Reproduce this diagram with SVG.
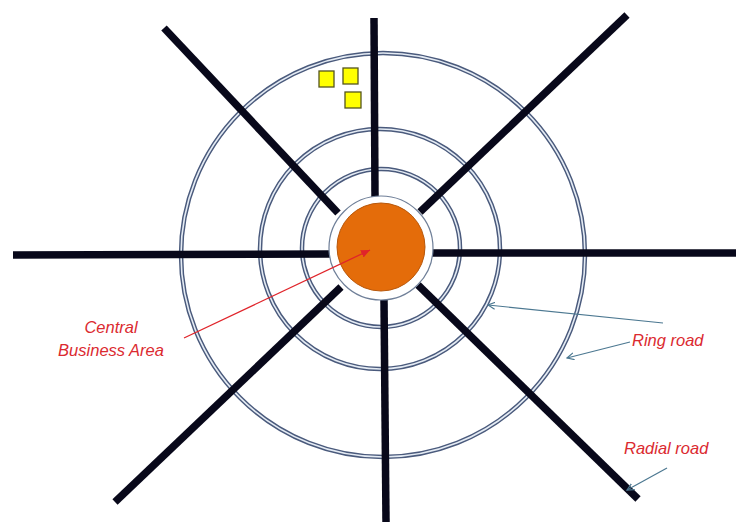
<svg xmlns="http://www.w3.org/2000/svg" width="736" height="527" viewBox="0 0 736 527">
<style>
.ring-o{fill:none;stroke:#4a5a7c;stroke-width:4.5}
.ring-i{fill:none;stroke:#e4ebf4;stroke-width:1.6}
.road{stroke:#08081a;stroke-width:7.5;stroke-linecap:butt}
.sq{fill:#ffff00;stroke:#55551e;stroke-width:1.3}
.lbl{font-family:"Liberation Sans",Arial,sans-serif;font-style:italic;font-size:16.5px;fill:#db2a30}
.lead{fill:none;stroke:#4c7891;stroke-width:1.2}
</style>
<defs>
<marker id="ah-blue" markerWidth="8" markerHeight="8" refX="7" refY="4" orient="auto" markerUnits="userSpaceOnUse">
<path d="M0,0.5 L7,4 L0,7.5" fill="none" stroke="#4c7891" stroke-width="1.2"/>
</marker>
<marker id="ah-red" markerWidth="10" markerHeight="10" refX="9" refY="5" orient="auto" markerUnits="userSpaceOnUse">
<path d="M0,1 L9,5 L0,9 Z" fill="#e0242a"/>
</marker>
</defs>
<rect width="736" height="527" fill="#ffffff"/>
<g id="ring-outer"><circle class="ring-o" cx="383" cy="255" r="202"/><circle class="ring-i" cx="383" cy="255" r="202"/></g>
<g id="ring-middle"><circle class="ring-o" cx="380" cy="249" r="120"/><circle class="ring-i" cx="380" cy="249" r="120"/></g>
<g id="ring-inner"><circle class="ring-o" cx="381" cy="248" r="79"/><circle class="ring-i" cx="381" cy="248" r="79"/></g>
<g id="roads">
<line class="road" x1="13" y1="255" x2="330" y2="254"/>
<line class="road" x1="430" y1="253" x2="736" y2="253"/>
<line class="road" x1="374" y1="18" x2="375" y2="197"/>
<line class="road" x1="384" y1="300" x2="386" y2="522"/>
<line class="road" x1="164" y1="28" x2="338" y2="213"/>
<line class="road" x1="627" y1="15" x2="420" y2="212"/>
<line class="road" x1="115" y1="502" x2="341" y2="287"/>
<line class="road" x1="418" y1="285" x2="638" y2="499"/>
</g>
<g id="cbd">
<circle cx="381" cy="248" r="52" fill="#ffffff" stroke="#6f7f98" stroke-width="1.2"/>
<circle cx="381" cy="247" r="44" fill="#e46c0a" stroke="#b8570a" stroke-width="1"/>
</g>
<g id="buildings">
<rect class="sq" x="319" y="71" width="15" height="16"/>
<rect class="sq" x="343" y="68" width="15" height="16"/>
<rect class="sq" x="345" y="92" width="16" height="16"/>
</g>
<g id="connectors">
<line x1="184" y1="338" x2="370" y2="250" stroke="#e0242a" stroke-width="1.3" marker-end="url(#ah-red)"/>
<line class="lead" x1="663" y1="323" x2="488" y2="305" marker-end="url(#ah-blue)"/>
<line class="lead" x1="630" y1="342" x2="567" y2="358" marker-end="url(#ah-blue)"/>
<line class="lead" x1="667" y1="468" x2="627" y2="490" marker-end="url(#ah-blue)"/>
</g>
<g id="label-cbd">
<text class="lbl" x="111" y="333" text-anchor="middle">Central</text>
<text class="lbl" x="111" y="356" text-anchor="middle">Business Area</text>
</g>
<g id="label-ring"><text class="lbl" x="632" y="346">Ring road</text></g>
<g id="label-radial"><text class="lbl" x="624" y="454">Radial road</text></g>
</svg>
